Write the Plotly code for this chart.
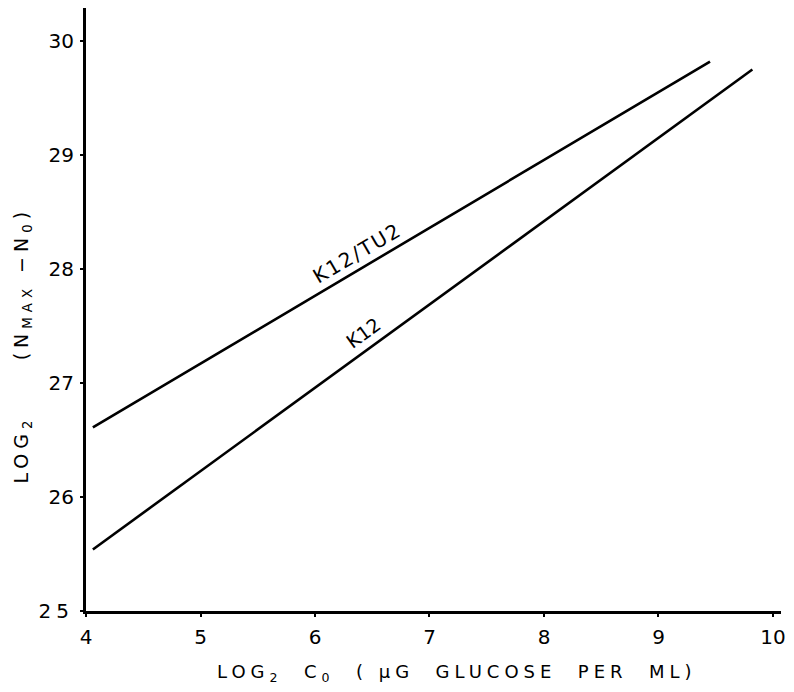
import plotly.graph_objects as go

# Data
k12_tu2_x = [4.06, 9.45]
k12_tu2_y = [26.61, 29.82]
k12_x = [4.06, 9.82]
k12_y = [25.54, 29.75]

x_ticks = [4, 5, 6, 7, 8, 9, 10]
x_ticklabels = ["4", "5", "6", "7", "8", "9", "10"]
y_ticks = [25, 26, 27, 28, 29, 30]
y_ticklabels = ["<span style='letter-spacing:5px'>25</span>", "26", "27", "28", "29", "30"]

FONT = "DejaVu Sans"

fig = go.Figure()
fig.add_trace(go.Scatter(x=k12_tu2_x, y=k12_tu2_y, mode="lines",
                         line=dict(color="black", width=2.6), name="K12/TU2",
                         showlegend=False))
fig.add_trace(go.Scatter(x=k12_x, y=k12_y, mode="lines",
                         line=dict(color="black", width=2.6), name="K12",
                         showlegend=False))

fig.add_annotation(x=6.37, y=28.14, text="<span style='letter-spacing:2px'>K12/TU2</span>",
                   showarrow=False, textangle=-30.5, xanchor="center", yanchor="middle",
                   font=dict(family=FONT, size=20, color="black"))
fig.add_annotation(x=6.42, y=27.44, text="K12", showarrow=False,
                   textangle=-35.8, xanchor="center", yanchor="middle",
                   font=dict(family=FONT, size=19, color="black"))

fig.add_annotation(xref="paper", yref="paper", x=0.534, y=-0.1028,
                   xanchor="center", yanchor="middle",
                   text="<span style='letter-spacing:5px'>LOG<sub>2</sub>  C<sub>0</sub>  ( μG  GLUCOSE  PER  ML)</span>",
                   showarrow=False, font=dict(family=FONT, size=18, color="black"))
fig.add_annotation(xref="paper", yref="paper", x=-0.0914, y=0.441,
                   xanchor="center", yanchor="middle",
                   text="<span style='letter-spacing:5px'>LOG<sub>2</sub>     (N<sub>MAX</sub> −N<sub>0</sub>)</span>",
                   showarrow=False, textangle=-90,
                   font=dict(family=FONT, size=19, color="black"))

fig.update_xaxes(range=[4, 10.07], tickvals=x_ticks, ticktext=x_ticklabels,
                 showgrid=False, zeroline=False, showline=True, linecolor="black",
                 linewidth=3, ticks="outside", ticklen=3, tickwidth=2,
                 tickcolor="black", ticklabeloverflow="allow", ticklabelstandoff=3,
                 tickfont=dict(family=FONT, size=20, color="black"))
fig.update_yaxes(range=[25, 30.29], tickvals=y_ticks, ticktext=y_ticklabels,
                 showgrid=False, zeroline=False, showline=True, linecolor="black",
                 linewidth=3, ticks="outside", ticklen=3, tickwidth=2,
                 tickcolor="black", ticklabelstandoff=2,
                 tickfont=dict(family=FONT, size=20, color="black"))

# The page body has an 8px margin; size the figure so it fits the window without scrolling
fig.update_layout(width=778, height=676, plot_bgcolor="white", paper_bgcolor="white",
                  margin=dict(l=78, r=0, t=0, b=73), showlegend=False)

fig.write_html("out.html")
